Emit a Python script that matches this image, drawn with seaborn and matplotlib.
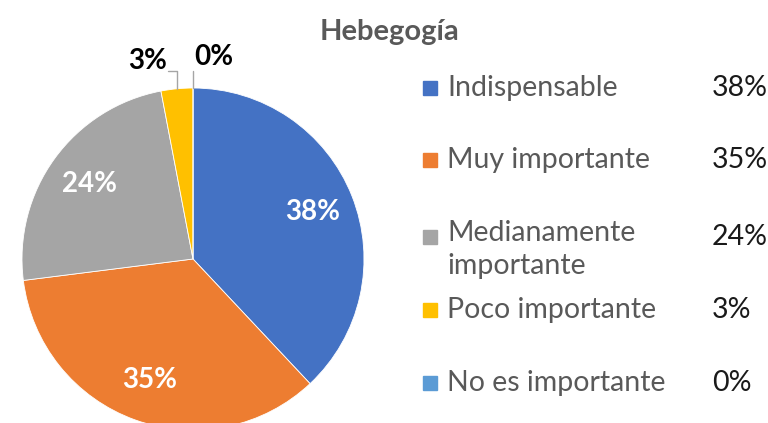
import numpy as np
import matplotlib
matplotlib.use("Agg")
import matplotlib.pyplot as plt
from matplotlib.patches import Rectangle
import seaborn as sns

title = "Hebegogía"
categories = ["Indispensable", "Muy importante", "Medianamente\nimportante",
              "Poco importante", "No es importante"]
values = [38, 35, 24, 3, 0]
pct_labels = ["38%", "35%", "24%", "3%", "0%"]
colors = ["#4472C4", "#ED7D31", "#A5A5A5", "#FFC000", "#5B9BD5"]

sns.set_style("white")
plt.rcParams["font.family"] = ["Lato", "DejaVu Sans"]

W, H = 768, 423
fig = plt.figure(figsize=(W / 100, H / 100), dpi=100)

# pie axes: centre (193, 259) px, radius 171 px
cx, cy, r = 193, 259, 171
ax = fig.add_axes([(cx - r) / W, (H - cy - r) / H, 2 * r / W, 2 * r / H])
wedges, _ = ax.pie(values, colors=colors, startangle=90, counterclock=False,
                   wedgeprops=dict(edgecolor="white", linewidth=0.6))
ax.set_xlim(-1, 1)
ax.set_ylim(-1, 1)
ax.set_aspect("equal")
ax.axis("off")

# labels
for i, w in enumerate(wedges):
    mid = np.deg2rad((w.theta1 + w.theta2) / 2)
    x, y = np.cos(mid), np.sin(mid)
    if values[i] >= 10:
        ax.text(0.75 * x, 0.75 * y, pct_labels[i], color="white", fontsize=20,
                fontweight="bold", ha="center", va="center")
    else:
        # outside label with leader line
        top = 1.10
        if i == 3:
            ax.plot([x, x, x - 0.05], [y, top, top], color="#A5A5A5", lw=1,
                    clip_on=False)
            ax.text(x - 0.17, top + 0.06, pct_labels[i], color="black",
                    fontsize=20, fontweight="bold", ha="center", va="center")
        else:
            ax.plot([x, x], [y, top], color="#A5A5A5", lw=1, clip_on=False)
            ax.text(x + 0.12, top + 0.08, pct_labels[i], color="black",
                    fontsize=20, fontweight="bold", ha="center", va="center")

fig.text(390 / W, 1 - 32 / H, title, color="#595959", fontsize=21,
         fontweight="bold", ha="center", va="center")

# legend
row_y = [88, 160, 237, 310, 383]
for i, cat in enumerate(categories):
    y = row_y[i]
    fig.patches.append(Rectangle((423 / W, 1 - (y + 7) / H), 14 / W, 14 / H,
                                 transform=fig.transFigure, color=colors[i]))
    if "\n" in cat:
        fig.text(447 / W, 1 - (y - 17) / H, cat, color="#595959", fontsize=20.5,
                 ha="left", va="top", linespacing=1.35)
    else:
        fig.text(447 / W, 1 - y / H, cat, color="#595959", fontsize=20.5,
                 ha="left", va="center")
    fig.text(712 / W, 1 - y / H, pct_labels[i], color="#1a1a1a", fontsize=20.5,
             ha="left", va="center")

fig.savefig("out.png", dpi=100)
